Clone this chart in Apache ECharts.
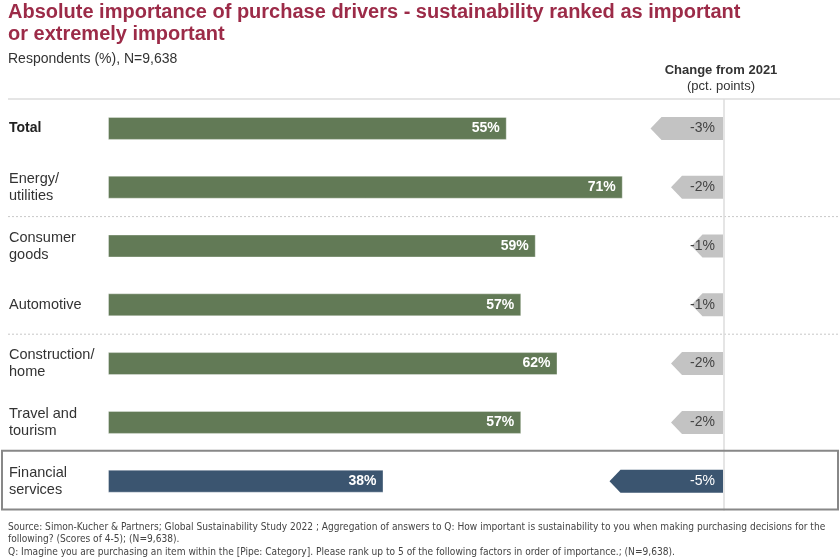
<!DOCTYPE html>
<html>
<head>
<meta charset="utf-8">
<script src="https://cdn.jsdelivr.net/npm/echarts@6/dist/echarts.min.js"></script>
<style>
  html, body { margin: 0; padding: 0; background: #fff; }
  #chart { width: 840px; height: 560px; }
</style>
</head>
<body>
<div id="chart"></div>
<script>
var categories = ['Total', 'Energy/\nutilities', 'Consumer\ngoods', 'Automotive',
                  'Construction/\nhome', 'Travel and\ntourism', 'Financial\nservices'];
var shares = [55, 71, 59, 57, 62, 57, 38];
var changes = [-3, -2, -1, -1, -2, -2, -5];
var highlightIndex = 6;

var GREEN = '#627a56';
var BLUE = '#3b5570';
var GREY = '#c3c3c3';

/* layout of the rows, shared by both grids and the separator lines */
var rowTop = 99;
var rowH = 58.8;
var gridH = rowH * categories.length;

var chart = echarts.init(document.getElementById('chart'));

var barData = shares.map(function (v, i) {
    return {
        value: v,
        itemStyle: { color: i === highlightIndex ? BLUE : GREEN }
    };
});

var changeData = changes.map(function (v, i) {
    return [v, i];
});

function labelFormatter(value, idx) {
    var style = idx === 0 ? 'b' : 'n';
    return value.split('\n').map(function (line) {
        return '{' + style + '|' + line + '}';
    }).join('\n');
}

function renderArrow(params, api) {
    var v = api.value(0);
    var cat = api.value(1);
    var end = api.coord([0, cat]);
    var start = api.coord([v, cat]);
    var h = 23;
    var tip = 11;
    var y = end[1];
    var hot = params.dataIndex === highlightIndex;
    return {
        type: 'group',
        children: [{
            type: 'polygon',
            shape: {
                points: [
                    [end[0], y - h / 2],
                    [start[0], y - h / 2],
                    [start[0] - tip, y],
                    [start[0], y + h / 2],
                    [end[0], y + h / 2]
                ]
            },
            style: { fill: hot ? BLUE : GREY }
        }, {
            type: 'text',
            x: end[0] - 8,
            y: y,
            style: {
                text: v + '%',
                align: 'right',
                verticalAlign: 'middle',
                fill: hot ? '#fff' : '#444',
                font: '14px "Liberation Sans", Arial, sans-serif'
            }
        }]
    };
}

var option = {
    animation: false,
    textStyle: { fontFamily: '"Liberation Sans", Arial, sans-serif' },
    title: [{
        text: 'Absolute importance of purchase drivers - sustainability ranked as important\nor extremely important',
        left: 8,
        top: 1,
        padding: 0,
        textStyle: { fontSize: 20, fontWeight: 'bold', color: '#9c2b48', lineHeight: 22 }
    }, {
        text: 'Respondents (%), N=9,638',
        left: 8,
        top: 51,
        padding: 0,
        textStyle: { fontSize: 14, fontWeight: 'normal', color: '#333', lineHeight: 16 }
    }, {
        text: 'Change from 2021',
        subtext: '(pct. points)',
        left: 721,
        textAlign: 'center',
        top: 62,
        padding: 0,
        itemGap: 0,
        textStyle: { fontSize: 13, fontWeight: 'bold', color: '#333', lineHeight: 16 },
        subtextStyle: { fontSize: 13, color: '#333', lineHeight: 16 }
    }],
    grid: [{
        left: 108, width: 725, top: rowTop, height: gridH
    }, {
        left: 723 - 6 * 20.5, width: 6 * 20.5, top: rowTop, height: gridH
    }],
    xAxis: [{
        gridIndex: 0, type: 'value', min: 0, max: 100, show: false
    }, {
        gridIndex: 1, type: 'value', min: -6, max: 0, show: false
    }],
    yAxis: [{
        gridIndex: 0,
        type: 'category',
        data: categories,
        inverse: true,
        axisLine: { show: false },
        axisTick: { show: false },
        splitLine: { show: false },
        axisLabel: {
            align: 'left',
            margin: 99,
            formatter: labelFormatter,
            rich: {
                b: { fontSize: 14, fontWeight: 'bold', color: '#222', lineHeight: 17 },
                n: { fontSize: 14.5, color: '#333', lineHeight: 17 }
            }
        }
    }, {
        gridIndex: 1,
        type: 'category',
        data: categories,
        inverse: true,
        show: false
    }],
    series: [{
        type: 'bar',
        xAxisIndex: 0,
        yAxisIndex: 0,
        data: barData,
        barWidth: 23,
        itemStyle: { borderColor: 'rgba(255,255,255,0.35)', borderWidth: 1 },
        label: {
            show: true,
            position: 'insideRight',
            distance: 7,
            formatter: '{c}%',
            color: '#fff',
            fontSize: 14,
            fontWeight: 'bold'
        }
    }, {
        type: 'custom',
        xAxisIndex: 1,
        yAxisIndex: 1,
        renderItem: renderArrow,
        encode: { x: 0, y: 1 },
        data: changeData,
        z: 3
    }],
    graphic: [
        // top rule under the headers
        { type: 'line', shape: { x1: 8, y1: rowTop, x2: 840, y2: rowTop },
          style: { stroke: '#dcdcdc', lineWidth: 1.5 } },
        // dotted group separators
        { type: 'line', shape: { x1: 8, y1: rowTop + 2 * rowH, x2: 840, y2: rowTop + 2 * rowH },
          style: { stroke: '#c8c8c8', lineWidth: 1, lineDash: [2, 2] } },
        { type: 'line', shape: { x1: 8, y1: rowTop + 4 * rowH, x2: 840, y2: rowTop + 4 * rowH },
          style: { stroke: '#c8c8c8', lineWidth: 1, lineDash: [2, 2] } },
        // zero line of the change column
        { type: 'line', shape: { x1: 724, y1: rowTop, x2: 724, y2: rowTop + gridH },
          style: { stroke: '#dddddd', lineWidth: 1.5 }, z: 10 },
        // box around the highlighted row
        { type: 'rect', shape: { x: 2, y: rowTop + 6 * rowH - 1, width: 836, height: rowH },
          style: { fill: 'none', stroke: '#888', lineWidth: 2 }, z: 11 },
        // footnote
        { type: 'text', left: 8, top: 521,
          style: {
            text: 'Source: Simon-Kucher & Partners; Global Sustainability Study 2022 ; Aggregation of answers to Q: How important is sustainability to you when making purchasing decisions for the\nfollowing? (Scores of 4-5); (N=9,638).\nQ: Imagine you are purchasing an item within the [Pipe: Category]. Please rank up to 5 of the following factors in order of importance.; (N=9,638).',
            fill: '#444',
            font: '10.1px "Liberation Sans Narrow", "DejaVu Sans Condensed", sans-serif',
            lineHeight: 12.5
          } }
    ]
};

chart.setOption(option);
</script>
</body>
</html>
